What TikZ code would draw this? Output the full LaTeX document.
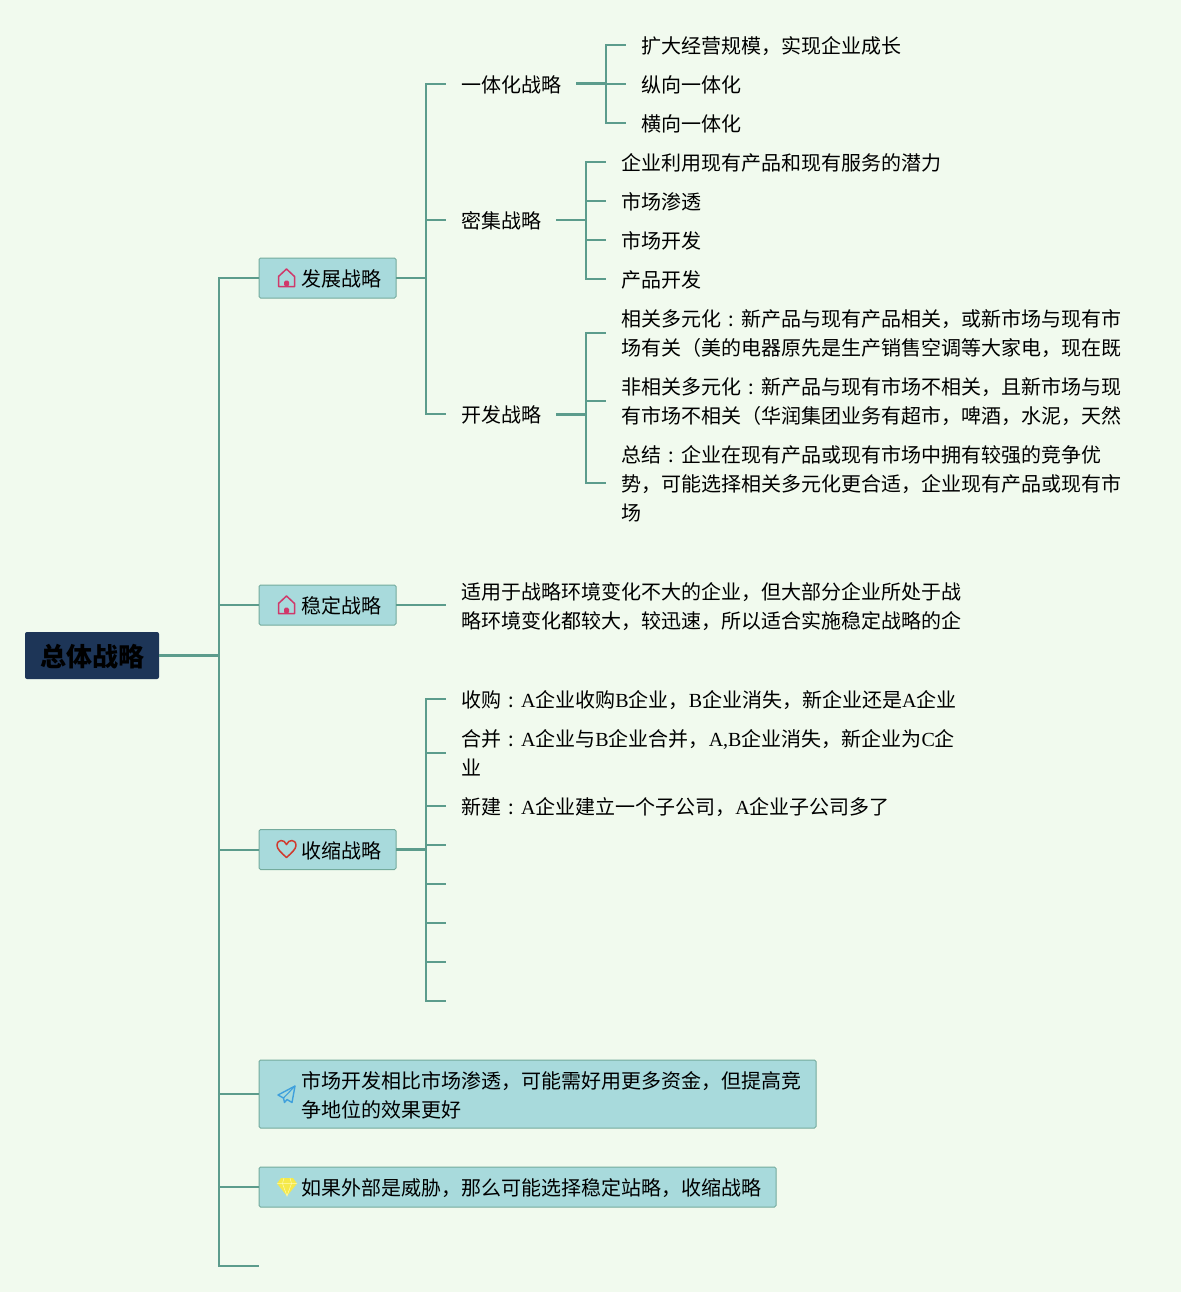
\documentclass[tikz,border=0pt]{standalone}
\usepackage{xcolor}
\usepackage{fontspec}
\usetikzlibrary{positioning}
\setmainfont{Noto Sans CJK SC}
\newfontfamily\latinfont{Liberation Serif}
\newcommand{\lat}[1]{{\latinfont #1}}
\newcommand{\cln}{\hbox to 20pt{\hss:\hss}}
\newcommand{\rows}[1]{\begin{tabular}{@{}l@{}}\rule{0pt}{25.9pt}#1\end{tabular}}
\definecolor{paper}{HTML}{F1FAEE}
\definecolor{topicfill}{HTML}{A8DADC}
\definecolor{rootfill}{HTML}{1D3557}
\definecolor{branchline}{HTML}{5C9C8C}
\definecolor{houseline}{HTML}{D0386A}
\definecolor{heartline}{HTML}{D03A2E}
\definecolor{planeline}{HTML}{3FA0DC}
\definecolor{gemfill}{HTML}{F5E94A}
\tikzset{
    branch/.style={draw=branchline, line width=2pt},
    trunk/.style={draw=branchline, line width=3pt},
    evenlines/.style={
        execute at begin node={\rule{0pt}{23.2pt}},
        execute at end node={\rule[-6pt]{0pt}{6pt}}},
    rootbox/.style={draw=none, fill=rootfill, rounded corners=2pt, anchor=west, inner sep=0pt, outer sep=0pt,
        minimum width=134pt, minimum height=47pt, font=\fontsize{26}{30}\selectfont\bfseries,
        execute at begin node={\rule{0pt}{30pt}},
        execute at end node={\rule[-7.24pt]{0pt}{7.24pt}}},
    topicbox/.style={evenlines, draw=branchline!85, line width=1pt, fill=topicfill, rounded corners=1.5pt, anchor=west,
        inner xsep=15pt, inner ysep=0pt, outer sep=0pt, minimum height=40pt,
        font=\fontsize{20}{29}\selectfont},
    leaf/.style={evenlines, anchor=west, inner xsep=15pt, inner ysep=0pt, outer sep=0pt,
        font=\fontsize{20}{29}\selectfont},
    houseicon/.pic={
        \draw[color=houseline, line width=1.5pt, line join=round] (-8,8.5) -- (-8,-1.5) -- (0,-9) -- (8,-1.5) -- (8,8.5) -- cycle;
        \fill[houseline, rounded corners=1.5pt] (-2.5,8.5) -- (-2.5,2.5) -- (2.5,2.5) -- (2.5,8.5) -- cycle;
    },
    hearticon/.pic={
        \draw[color=heartline, line width=1.5pt, line join=round] (0,8.5) .. controls (-5,4) and (-9.5,0) .. (-9.5,-3.5)
            .. controls (-9.5,-10) and (-2,-10) .. (0,-4.5) .. controls (2,-10) and (9.5,-10) .. (9.5,-3.5)
            .. controls (9.5,0) and (5,4) .. (0,8.5) -- cycle;
    },
    planeicon/.pic={
        \draw[color=planeline, line width=1.4pt, line join=round] (8.5,-8.5) -- (-8.5,0.5) -- (-3,3.5) -- (-2,8) -- (0.5,5) -- (5.5,8) -- cycle;
        \draw[color=planeline, line width=1.1pt] (8.5,-8.5) -- (-3,3.5);
    },
    gemicon/.pic={
        \fill[gemfill] (-6,-9) -- (6,-9) -- (10,-3.5) -- (0,9) -- (-10,-3.5) -- cycle;
        \draw[white!70!yellow, line width=0.5pt] (-10,-3.5) -- (10,-3.5) (-3,-9) -- (-4.5,-3.5) -- (0,9) -- (4.5,-3.5) -- (3,-9);
    },
}
\begin{document}
\begin{tikzpicture}[x=1pt, y=-1pt]
    \fill[paper] (0,0) rectangle (1181,1292);
    \useasboundingbox (0,0) rectangle (1181,1292);

    % Root and first level
    \node[rootbox] (root) at (25,655.5) {总体战略};
    \node[topicbox] (fazhan) at (259,278) {\hspace*{27pt}发展战略};
    \node[topicbox] (wending) at (259,605) {\hspace*{27pt}稳定战略};
    \node[topicbox] (shousuo) at (259,849.5) {\hspace*{27pt}收缩战略};
    \node[topicbox, minimum height=68pt] (shichang) at (259,1094) {\rows{\hspace*{27pt}市场开发相比市场渗透，可能需好用更多资金，但提高竞\\\hspace*{27pt}争地位的效果更好}};
    \node[topicbox] (waibu) at (259,1187) {\hspace*{27pt}如果外部是威胁，那么可能选择稳定站略，收缩战略};
    \coordinate (rootend) at (259,1266);

    \pic at (286.5,278) {houseicon};
    \pic at (286.5,605) {houseicon};
    \pic at (286.5,849) {hearticon};
    \pic at (286.5,1094.5) {planeicon};
    \pic at (287,1187) {gemicon};

    % Development strategies
    \node[leaf] (yiti) at (446,84) {一体化战略};
    \node[leaf] (miji) at (446,220) {密集战略};
    \node[leaf] (kaifa) at (446,414) {开发战略};

    \node[leaf] (yitiA) at (626,45) {扩大经营规模，实现企业成长};
    \node[leaf] (yitiB) at (626,84) {纵向一体化};
    \node[leaf] (yitiC) at (626,123) {横向一体化};

    \node[leaf] (mijiA) at (606,162) {企业利用现有产品和现有服务的潜力};
    \node[leaf] (mijiB) at (606,201) {市场渗透};
    \node[leaf] (mijiC) at (606,240) {市场开发};
    \node[leaf] (mijiD) at (606,279) {产品开发};

    \node[leaf] (kaifaA) at (606,332.5) {\rows{相关多元化\cln 新产品与现有产品相关，或新市场与现有市\\场有关（美的电器原先是生产销售空调等大家电，现在既}};
    \node[leaf] (kaifaB) at (606,400.5) {\rows{非相关多元化\cln 新产品与现有市场不相关，且新市场与现\\有市场不相关（华润集团业务有超市，啤酒，水泥，天然}};
    \node[leaf] (kaifaC) at (606,483) {\rows{总结\cln 企业在现有产品或现有市场中拥有较强的竞争优\\势，可能选择相关多元化更合适，企业现有产品或现有市\\场}};

    % Stable strategy
    \node[leaf] (wendingA) at (446,605) {\rows{适用于战略环境变化不大的企业，但大部分企业所处于战\\略环境变化都较大，较迅速，所以适合实施稳定战略的企}};

    % Retrenchment strategy
    \node[leaf] (shouA) at (446,699) {收购\cln\lat{A}企业收购\lat{B}企业，\lat{B}企业消失，新企业还是\lat{A}企业};
    \node[leaf] (shouB) at (446,752.5) {\rows{合并\cln\lat{A}企业与\lat{B}企业合并，\lat{A,B}企业消失，新企业为\lat{C}企\\业}};
    \node[leaf] (shouC) at (446,806) {新建\cln\lat{A}企业建立一个子公司，\lat{A}企业子公司多了};
    \foreach \n/\y in {shouD/845, shouE/884, shouF/923, shouG/962, shouH/1001} {
        \coordinate (\n) at (446,\y);
    }

    % Connectors
    \foreach \c in {fazhan.west, wending.west, shousuo.west, shichang.west, waibu.west, rootend} {
        \draw[branch] (root.east) -- (219,655.5) |- (\c);
    }
    \draw[trunk] (root.east) -- (219,655.5);
    \foreach \c in {yiti, miji, kaifa} {
        \draw[branch] (fazhan.east) -- ++(30,0) |- (\c.west);
    }
    \foreach \c in {yitiA, yitiB, yitiC} {
        \draw[branch] (yiti.east) -- ++(30,0) |- (\c.west);
    }
    \draw[trunk] (yiti.east) -- ++(30,0);
    \foreach \c in {mijiA, mijiB, mijiC, mijiD} {
        \draw[branch] (miji.east) -- ++(30,0) |- (\c.west);
    }
    \foreach \c in {kaifaA, kaifaB, kaifaC} {
        \draw[branch] (kaifa.east) -- ++(30,0) |- (\c.west);
    }
    \draw[trunk] (kaifa.east) -- ++(30,0);
    \draw[branch] (wending.east) -- (wendingA.west);
    \foreach \c in {shouA.west, shouB.west, shouC.west, shouD, shouE, shouF, shouG, shouH} {
        \draw[branch] (shousuo.east) -- ++(30,0) |- (\c);
    }
    \draw[trunk] (shousuo.east) -- ++(30,0);
\end{tikzpicture}
\end{document}
